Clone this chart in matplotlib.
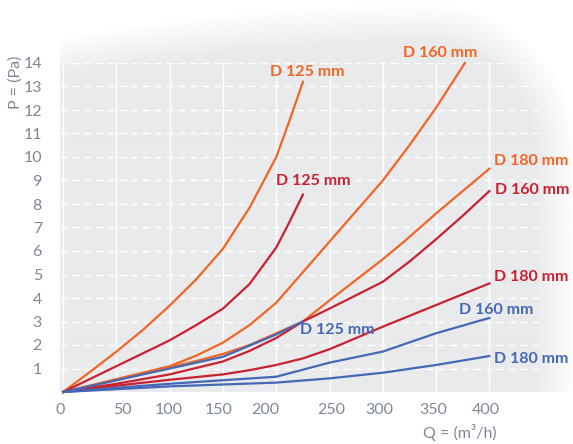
import numpy as np
import matplotlib
matplotlib.use("Agg")
import matplotlib.pyplot as plt

# pressure loss curves
q_or125 = [0, 25, 50, 75, 100, 125, 150, 175, 200, 212, 225]
p_or125 = [0, 0.85, 1.72, 2.65, 3.68, 4.8, 6.1, 7.85, 10.0, 11.5, 13.2]
q_or160 = [0, 50, 100, 125, 150, 175, 200, 250, 300, 325, 350, 377]
p_or160 = [0, 0.55, 1.1, 1.55, 2.1, 2.85, 3.8, 6.4, 9.0, 10.5, 12.1, 14.0]
q_or180 = [0, 50, 100, 125, 150, 175, 200, 225, 250, 300, 320, 350, 400]
p_or180 = [0, 0.5, 1.05, 1.32, 1.62, 2.0, 2.5, 3.0, 3.9, 5.65, 6.4, 7.6, 9.5]

q_rd125 = [0, 25, 50, 75, 100, 125, 150, 175, 200, 212, 225]
p_rd125 = [0, 0.55, 1.1, 1.65, 2.2, 2.85, 3.55, 4.6, 6.15, 7.2, 8.4]
q_rd160 = [0, 50, 100, 150, 175, 200, 225, 250, 300, 325, 350, 375, 400]
p_rd160 = [0, 0.35, 0.75, 1.3, 1.75, 2.3, 3.0, 3.55, 4.69, 5.55, 6.5, 7.5, 8.55]
q_rd180 = [0, 50, 100, 150, 175, 200, 225, 250, 300, 350, 400]
p_rd180 = [0, 0.27, 0.52, 0.75, 0.93, 1.15, 1.43, 1.82, 2.78, 3.7, 4.62]

q_bl125 = [0, 50, 100, 150, 200, 225]
p_bl125 = [0, 0.5, 1.0, 1.5, 2.45, 3.0]
q_bl160 = [0, 50, 100, 150, 200, 250, 300, 350, 400]
p_bl160 = [0, 0.18, 0.35, 0.5, 0.65, 1.25, 1.72, 2.5, 3.15]
q_bl180 = [0, 50, 100, 150, 200, 250, 300, 350, 400]
p_bl180 = [0, 0.12, 0.24, 0.32, 0.4, 0.58, 0.82, 1.15, 1.53]

x_ticks = [0, 50, 100, 150, 200, 250, 300, 350, 400]
x_tick_labels = ["0", "50", "100", "150", "200", "250", "300", "350", "400"]
y_ticks = list(range(1, 15))

ORANGE = "#f26524"
RED = "#c92130"
BLUE = "#4468b5"
GREY_TXT = "#7d8896"

plt.rcParams['font.family'] = ['Lato', 'DejaVu Sans']

W, H = 573, 444
fig = plt.figure(figsize=(W / 100, H / 100), dpi=100)

# soft grey backdrop: rounded top-right corner fading to white
bg = fig.add_axes([0, 0, 1, 1], zorder=-5)
yy, xx = np.mgrid[0:H, 0:W] + 0.5
cx, cy, R = 430, 150, 125
ytop = 25 + 33 * ((xx - cx) / 370) ** 2
d = np.maximum(ytop - yy, xx - (cx + R))
corner = (xx > cx) & (yy < cy)
d[corner] = np.hypot(xx[corner] - cx, yy[corner] - cy) - R
alpha = np.clip(0.5 - d / 40, 0, 1)
alpha[(xx < 60) | (yy > 392)] = 0
img = np.zeros((H, W, 4))
img[..., 0] = 233 / 255
img[..., 1] = 234 / 255
img[..., 2] = 236 / 255
img[..., 3] = alpha
bg.imshow(img, extent=[0, W, H, 0], aspect='auto', interpolation='bilinear')
bg.set_xlim(0, W)
bg.set_ylim(H, 0)
bg.axis('off')

# main axes: 0..400 -> 60..489 px, 0..14 -> 392..63 px
px_per_q = (489 - 60) / 400
xmax = 450
ax = fig.add_axes([60 / W, 1 - 392 / H, xmax * px_per_q / W, (392 - 63) / H])
ax.set_facecolor('none')
ax.set_xlim(0, xmax)
ax.set_ylim(0, 14)
for s in ax.spines.values():
    s.set_visible(False)

# grid: solid white verticals, dashed white horizontals
for xv in x_ticks:
    ax.axvline(xv, color='white', lw=1.0, zorder=1)
for yv in y_ticks:
    ax.axhline(yv, color='white', lw=1.0, ls=(0, (5, 3.5)), zorder=1)

# tick labels are slightly off the gridlines in the original
label_pos = [-3, 56, 99, 146, 190, 252, 297, 347, 397]
ax.set_xticks(label_pos)
ax.set_xticklabels(x_tick_labels)
ax.set_yticks(y_ticks)
ax.tick_params(length=0, labelsize=11.5, colors=GREY_TXT)
ax.tick_params(axis='x', pad=8)
ax.tick_params(axis='y', pad=13)

series = [
    (q_or125, p_or125, ORANGE, (4, 10), 'center'),
    (q_or160, p_or160, ORANGE, (-25, 10), 'center'),
    (q_or180, p_or180, ORANGE, (5, 8), 'left'),
    (q_rd125, p_rd125, RED, (10, 14), 'center'),
    (q_rd160, p_rd160, RED, (6, 1), 'left'),
    (q_rd180, p_rd180, RED, (5, 6), 'left'),
    (q_bl160, p_bl160, BLUE, (7, 8), 'center'),
    (q_bl180, p_bl180, BLUE, (5, -3), 'left'),
    (q_bl125, p_bl125, BLUE, (-3, -8), 'left'),
]
names = ["D 125 mm", "D 160 mm", "D 180 mm",
         "D 125 mm", "D 160 mm", "D 180 mm",
         "D 160 mm", "D 180 mm", "D 125 mm"]

for (q, p, c, off, ha), name in zip(series, names):
    ax.plot(q, p, color=c, lw=1.6, solid_joinstyle='round', clip_on=False, zorder=3)
    ax.annotate(name, xy=(q[-1], p[-1]), xytext=off, textcoords='offset pixels',
                ha=ha, va='center', color=c, fontsize=11.5, fontweight='bold',
                annotation_clip=False, zorder=4)

fig.text(16 / W, 1 - 82 / H, "P = (Pa)", rotation=90, ha='center', va='center',
         color=GREY_TXT, fontsize=11.5)
fig.text(460 / W, 1 - 432 / H, "Q = (m³/h)", ha='center', va='center',
         color=GREY_TXT, fontsize=11.5)

fig.savefig("out.png", dpi=100)
